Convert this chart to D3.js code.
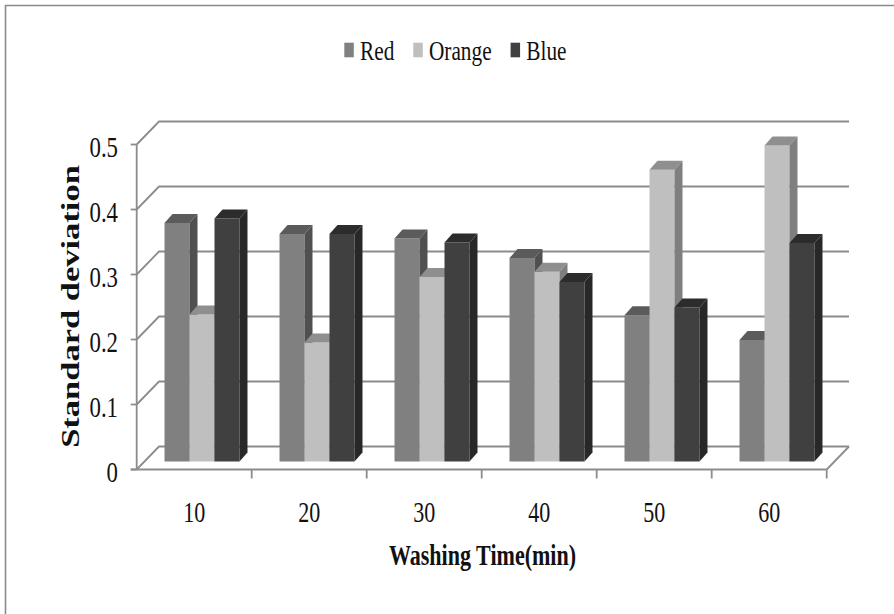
<!DOCTYPE html>
<html><head><meta charset="utf-8">
<script src="https://cdn.jsdelivr.net/npm/d3@7"></script>
<style>html,body{margin:0;padding:0;background:#fff;}svg{display:block;}</style>
</head><body>
<svg id="chart" width="894" height="614"></svg>
<script>
// ---- data ----
const categories = ["10", "20", "30", "40", "50", "60"];
const seriesNames = ["Red", "Orange", "Blue"];
const redValues = [0.367, 0.350, 0.343, 0.313, 0.225, 0.187];
const orangeValues = [0.226, 0.183, 0.284, 0.292, 0.449, 0.486];
const blueValues = [0.374, 0.350, 0.337, 0.276, 0.237, 0.336];
const yTicks = [0, 0.1, 0.2, 0.3, 0.4, 0.5];
const yTickLabels = ["0", "0.1", "0.2", "0.3", "0.4", "0.5"];
const xTitle = "Washing Time(min)";
const yTitle = "Standard deviation";

// ---- styling / layout ----
const faceColors = {
  Red: {front: "#808080", top: "#5b5b5b", side: "#505050"},
  Orange: {front: "#bfbfbf", top: "#8f8f8f", side: "#7f7f7f"},
  Blue: {front: "#404040", top: "#2c2c2c", side: "#282828"}
};
const SX = 0.76;              // horizontal text compression
const x0 = 136.7, x1 = 826.7; // front plane
const DX = 22.3, DY = -23;    // wall depth offset
const BDX = 7.8, BDY = -8;    // bar front plane offset
const BD_X = 8, BD_Y = -9;    // bar depth
const gridColor = "#8c8c8c";

const svg = d3.select("#chart");

// frame
svg.append("path").attr("d", "M5.5,614 L5.5,5.5 L894,5.5")
  .attr("fill", "none").attr("stroke", "#8a8a8a").attr("stroke-width", 1.6);

const y = d3.scaleLinear().domain([0, 0.5]).range([469.5, 144.5]);
const xBand = d3.scaleBand().domain(categories).range([x0, x1]).paddingInner(0.348).paddingOuter(0.174);
const xSeries = d3.scaleBand().domain(seriesNames).range([0, xBand.bandwidth()]);
const dataBySeries = {Red: redValues, Orange: orangeValues, Blue: blueValues};

// gridlines (diagonal + back wall)
const grid = svg.append("g").attr("fill", "none").attr("stroke", gridColor).attr("stroke-width", 1.8);
yTicks.forEach(v => {
  grid.append("path").attr("d", `M${x0},${y(v)} L${x0 + DX},${y(v) + DY} L${x1 + DX},${y(v) + DY}`);
});
// floor right edge
grid.append("path").attr("d", `M${x1},${y(0)} L${x1 + DX},${y(0) + DY}`);

// bars
const bars = svg.append("g");
categories.forEach((c, i) => {
  seriesNames.forEach(s => {
    const v = dataBySeries[s][i];
    const bx = xBand(c) + xSeries(s) + BDX;
    const bw = xSeries.bandwidth();
    const yt = y(v) + BDY, yb = y(0) + BDY;
    const col = faceColors[s];
    bars.append("path").attr("fill", col.front)
      .attr("d", `M${bx},${yt} L${bx + bw},${yt} L${bx + bw},${yb} L${bx},${yb} Z`);
    bars.append("path").attr("fill", col.top)
      .attr("d", `M${bx},${yt} L${bx + bw},${yt} L${bx + bw + BD_X},${yt + BD_Y} L${bx + BD_X},${yt + BD_Y} Z`);
    bars.append("path").attr("fill", col.side)
      .attr("d", `M${bx + bw},${yt} L${bx + bw + BD_X},${yt + BD_Y} L${bx + bw + BD_X},${yb + BD_Y} L${bx + bw},${yb} Z`);
  });
});

// axes lines
const ax = svg.append("g").attr("fill", "none").attr("stroke", gridColor).attr("stroke-width", 1.8);
ax.append("path").attr("d", `M${x0},${y(0.5)} L${x0},${y(0)}`);
ax.append("path").attr("d", `M${x0 - 6},${y(0)} L${x1},${y(0)}`);
yTicks.forEach(v => ax.append("path").attr("d", `M${x0 - 6},${y(v)} L${x0},${y(v)}`));
const bounds = categories.map(c => xBand(c) - xBand.step() * xBand.paddingInner() / 2).concat([x1]);
bounds.slice(1).forEach(b => ax.append("path").attr("d", `M${b},${y(0)} L${b},${y(0) + 9}`));

// text helper (horizontally compressed)
function label(x, yy, txt, size, anchor, weight) {
  const g = svg.append("g").attr("transform", `translate(${x},${yy}) scale(${SX},1)`);
  return g.append("text").attr("x", 0).attr("y", 0)
    .attr("font-family", "'Liberation Serif','Times New Roman',serif")
    .attr("font-size", size).attr("font-weight", weight || "normal")
    .attr("text-anchor", anchor).attr("fill", "#111").text(txt);
}

// y tick labels
yTicks.forEach((v, i) => label(118, y(v) + 12, yTickLabels[i], 30, "end"));
// category labels
categories.forEach(c => label(xBand(c) + xBand.bandwidth() / 2, 521.5, c, 29, "middle"));
// x title
label(482.5, 565, xTitle, 29, "middle", "bold");
// y title
svg.append("text")
  .attr("transform", `translate(79,306.5) scale(${SX},1) rotate(-90)`)
  .attr("font-family", "'Liberation Serif','Times New Roman',serif")
  .attr("font-size", 34.5).attr("font-weight", "bold").attr("text-anchor", "middle")
  .attr("fill", "#111").text(yTitle);

// legend
let lx = 344.3;
seriesNames.forEach(s => {
  svg.append("rect").attr("x", lx).attr("y", 42.7).attr("width", 9.5).attr("height", 14.6)
    .attr("fill", faceColors[s].front);
  const t = label(lx + 15.7, 60, s, 28, "start");
  const w = t.node().getComputedTextLength() * SX;
  lx = lx + 15.7 + w + 19;
});
</script>
</body></html>
